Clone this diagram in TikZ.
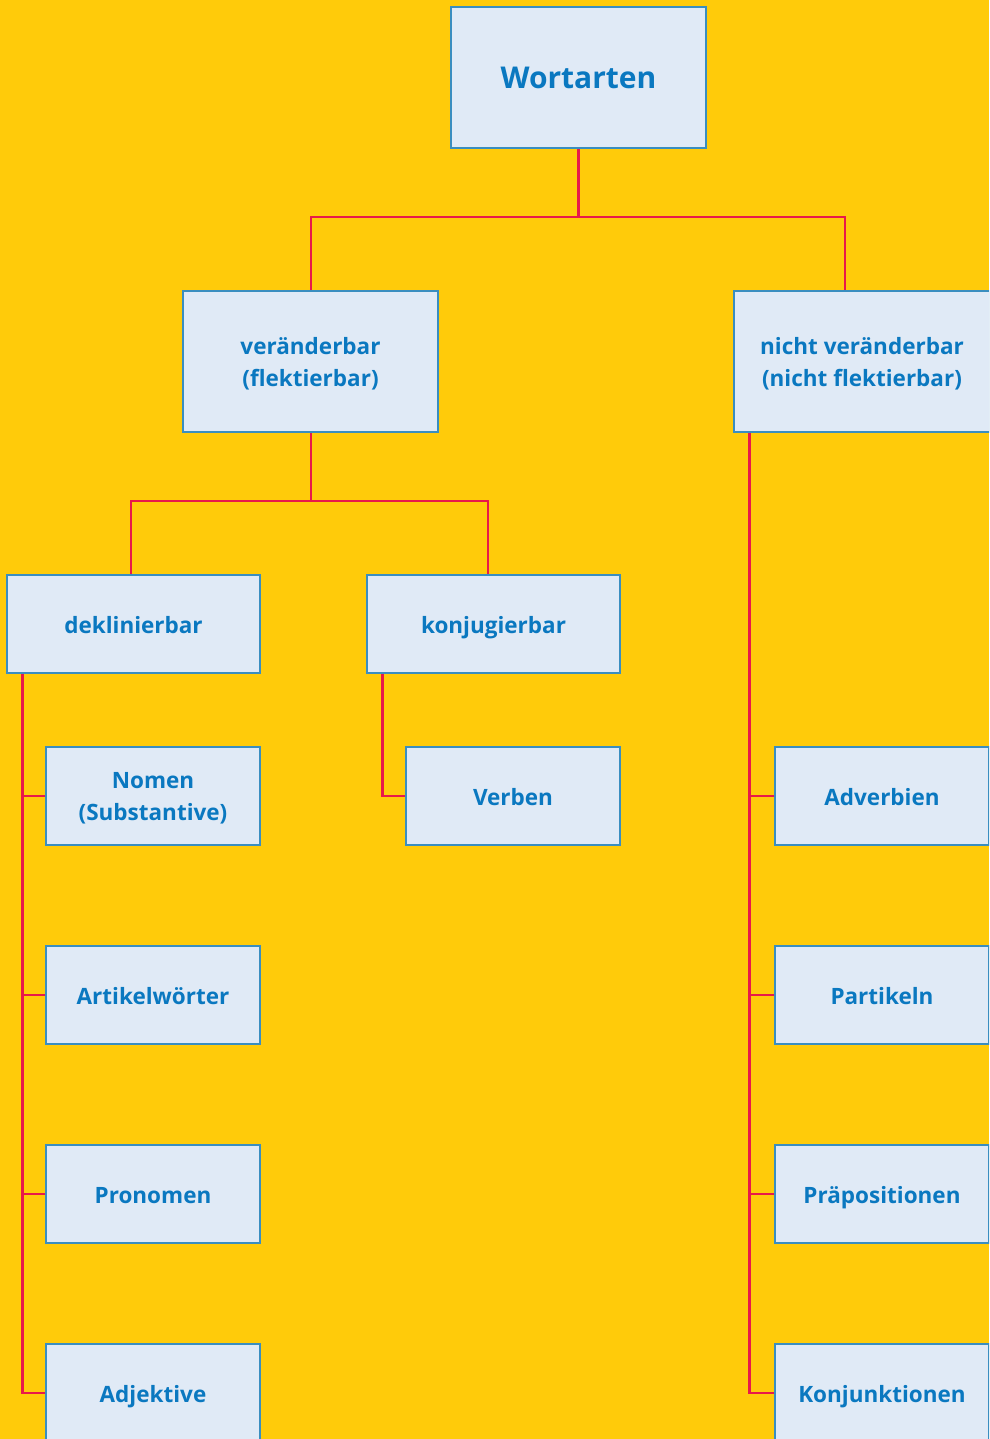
\documentclass[tikz,border=0pt]{standalone}
\usepackage{fontspec}
\setmainfont{Open Sans}
\definecolor{bg}{HTML}{FFCB0A}
\definecolor{boxfill}{HTML}{E0EAF6}
\definecolor{boxline}{HTML}{3A8EC0}
\definecolor{txt}{HTML}{0A78C0}
\definecolor{conn}{HTML}{E8194A}
\tikzset{
  box/.style={draw=boxline, line width=1.3pt, fill=boxfill, text=txt,
    font=\bfseries\fontsize{22.5}{32}\selectfont, align=center, inner sep=0pt},
  one/.style={text height=22pt, text depth=4pt},
  two/.style={text depth=0pt},
  bigbox/.style={box, minimum width=255pt, minimum height=141pt},
  midbox/.style={box, one, minimum width=253pt, minimum height=98pt},
  leafbox/.style={box, minimum width=214pt, minimum height=98pt},
  connline/.style={draw=conn, line width=2.7pt},
}
\begin{document}
\begin{tikzpicture}[x=1pt,y=-1pt]
\fill[bg] (0,0) rectangle (989,1439);
\clip (0,0) rectangle (989,1439);
\useasboundingbox (0,0) rectangle (989,1439);
% connectors (drawn first, boxes on top)
\coordinate (wortS) at (578.5,148);
\coordinate (j1) at (578.5,217);
\coordinate (verN) at (311,291);
\coordinate (nvN) at (845,291);
\draw[connline] (wortS) -- (j1);
\draw[connline] (verN) |- (j1) -| (nvN);
\coordinate (verS) at (311,432);
\coordinate (j2) at (311,501);
\coordinate (deklN) at (131,575);
\coordinate (konjN) at (488,575);
\draw[connline] (verS) -- (j2);
\draw[connline] (deklN) |- (j2) -| (konjN);
% nodes
\node[bigbox, text height=26pt, text depth=4pt, font=\bfseries\fontsize{30}{36}\selectfont] (wort) at (578.5,77.5) {Wortarten};
\node[bigbox, two] (ver) at (310.5,361.5) {veränderbar\\(flektierbar)};
\node[bigbox, two, minimum width=256pt] (nv) at (862,361.5) {nicht veränderbar\\(nicht flektierbar)};
\node[midbox] (dekl) at (133.5,624) {deklinierbar};
\node[midbox] (konj) at (493.5,624) {konjugierbar};
\node[leafbox, two] (nomen) at (153,796) {Nomen\\(Substantive)};
\node[leafbox, one] (artikel) at (153,995) {Artikelwörter};
\node[leafbox, one] (pron) at (153,1194) {Pronomen};
\node[leafbox, one] (adj) at (153,1393) {Adjektive};
\node[leafbox, one] (verben) at (513,796) {Verben};
\node[leafbox, one] (adv) at (882,796) {Adverbien};
\node[leafbox, one] (part) at (882,995) {Partikeln};
\node[leafbox, one] (prae) at (882,1194) {Präpositionen};
\node[leafbox, one] (konjunk) at (882,1393) {Konjunktionen};
% side connectors
\coordinate (dl) at ([xshift=16pt]dekl.south west);
\draw[connline] (dl) |- (adj.west);
\draw[connline] (nomen.west) -- (nomen.west -| dl);
\draw[connline] (artikel.west) -- (artikel.west -| dl);
\draw[connline] (pron.west) -- (pron.west -| dl);
\coordinate (kl) at ([xshift=16pt]konj.south west);
\draw[connline] (kl) |- (verben.west);
\coordinate (nl) at ([xshift=16pt]nv.south west);
\draw[connline] (nl) |- (konjunk.west);
\draw[connline] (adv.west) -- (adv.west -| nl);
\draw[connline] (part.west) -- (part.west -| nl);
\draw[connline] (prae.west) -- (prae.west -| nl);
\end{tikzpicture}
\end{document}
